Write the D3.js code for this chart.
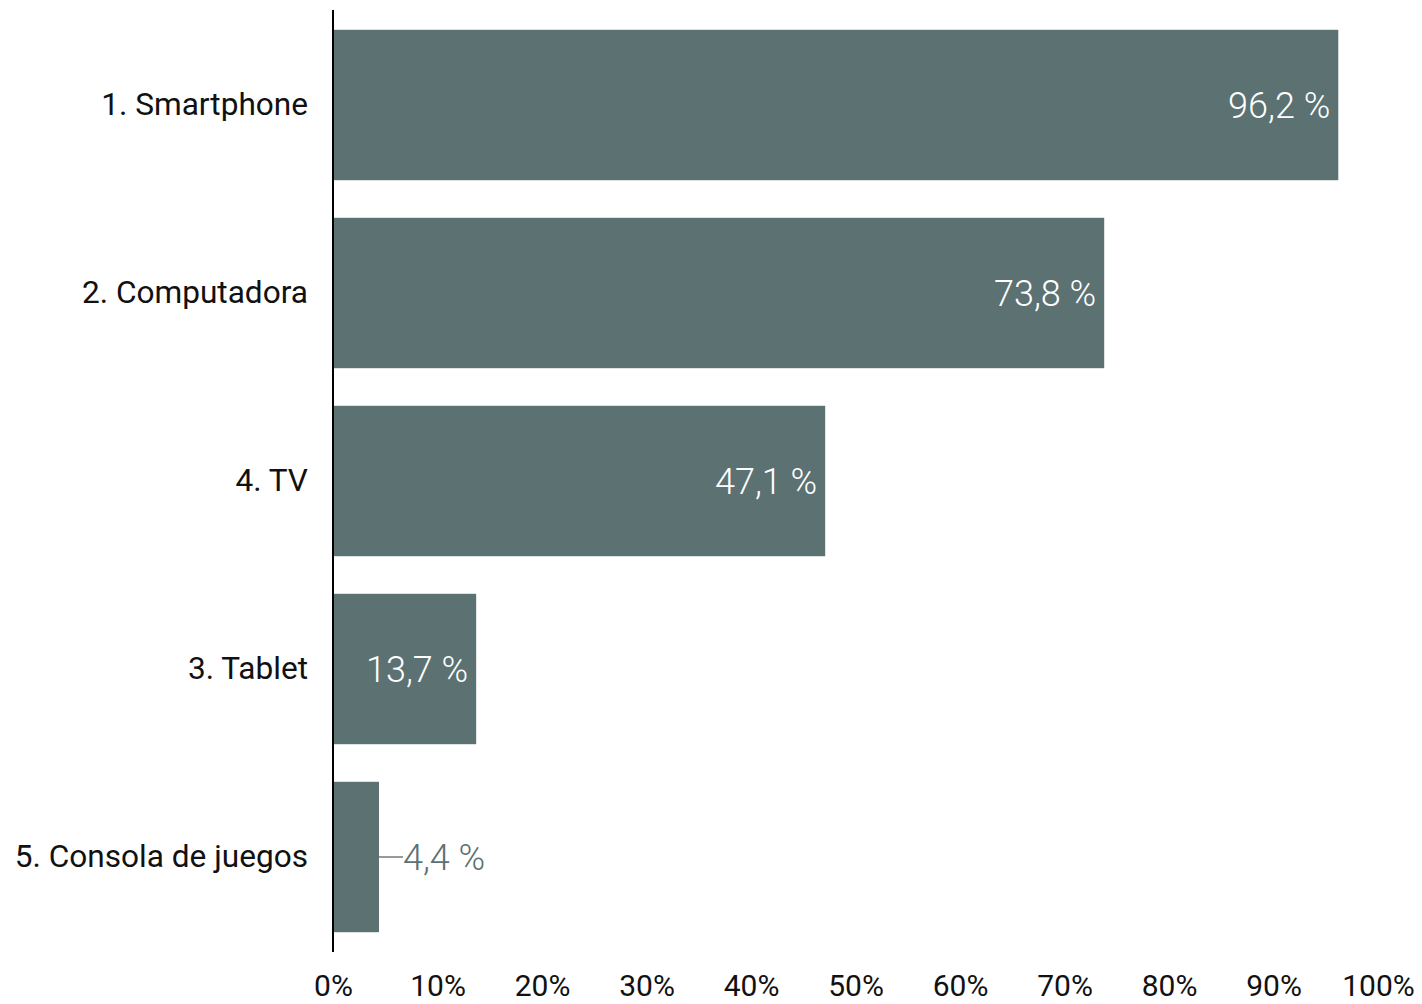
<!DOCTYPE html>
<html>
<head>
<meta charset="utf-8">
<script src="https://cdn.jsdelivr.net/npm/d3@7"></script>
<style>
  html, body { margin: 0; padding: 0; background: #fff; }
  svg { display: block; font-family: Roboto, "Noto Sans", sans-serif; }
</style>
</head>
<body>
<svg id="chart" width="1422" height="1004"></svg>
<script>
// Device usage share (%)
const categories = ["1. Smartphone", "2. Computadora", "4. TV", "3. Tablet", "5. Consola de juegos"];
const values = [96.2, 73.8, 47.1, 13.7, 4.4];
const tickValues = [0, 10, 20, 30, 40, 50, 60, 70, 80, 90, 100];

const barColor = "#5b7172";
const svg = d3.select("#chart");

const x = d3.scaleLinear().domain([0, 100]).range([333, 1378]);
const y = d3.scaleBand().domain(categories).range([11, 951]).paddingInner(0.2).paddingOuter(0.1);

const data = categories.map((c, i) => ({ c, v: values[i] }));
const fmt = v => d3.format(".1f")(v).replace(".", ",") + " %";

// bars
svg.append("g").selectAll("rect").data(data).join("rect")
  .attr("x", x(0))
  .attr("y", d => y(d.c))
  .attr("width", d => x(d.v) - x(0))
  .attr("height", y.bandwidth())
  .attr("fill", barColor);

// value labels: inside the bar when there is room, outside with a leader otherwise
const inside = d => x(d.v) - x(0) > 120;
const labels = svg.append("g").selectAll("g").data(data).join("g");
labels.filter(d => inside(d)).append("text")
  .attr("x", d => x(d.v) - 8)
  .attr("y", d => y(d.c) + y.bandwidth() / 2)
  .attr("dy", "0.35em")
  .attr("text-anchor", "end")
  .attr("fill", "#fff")
  .attr("font-size", 36)
  .attr("font-weight", 300)
  .text(d => fmt(d.v));
const outside = labels.filter(d => !inside(d));
outside.append("line")
  .attr("x1", d => x(d.v))
  .attr("x2", d => x(d.v) + 24)
  .attr("y1", d => y(d.c) + y.bandwidth() / 2)
  .attr("y2", d => y(d.c) + y.bandwidth() / 2)
  .attr("stroke", "#999")
  .attr("stroke-width", 2);
outside.append("text")
  .attr("x", d => x(d.v) + 24)
  .attr("y", d => y(d.c) + y.bandwidth() / 2)
  .attr("dy", "0.35em")
  .attr("fill", barColor)
  .attr("font-size", 36)
  .attr("font-weight", 300)
  .text(d => fmt(d.v));

// category axis
const yAxis = svg.append("g").attr("transform", `translate(${x(0)},0)`)
  .call(d3.axisLeft(y).tickSize(0).tickPadding(25));
yAxis.select(".domain").attr("stroke", "#000").attr("stroke-width", 2).attr("d", "M0,10V952");
yAxis.selectAll("text").attr("font-size", 31.6).attr("fill", "#111").attr("font-family", "Roboto, sans-serif");

// value axis
const xAxis = svg.append("g").attr("transform", "translate(0,952)")
  .call(d3.axisBottom(x).tickValues(tickValues).tickFormat(d => d + "%").tickSize(0).tickPadding(23));
xAxis.select(".domain").remove();
xAxis.selectAll("text").attr("font-size", 30).attr("fill", "#111").attr("font-family", "Roboto, sans-serif");
</script>
</body>
</html>
